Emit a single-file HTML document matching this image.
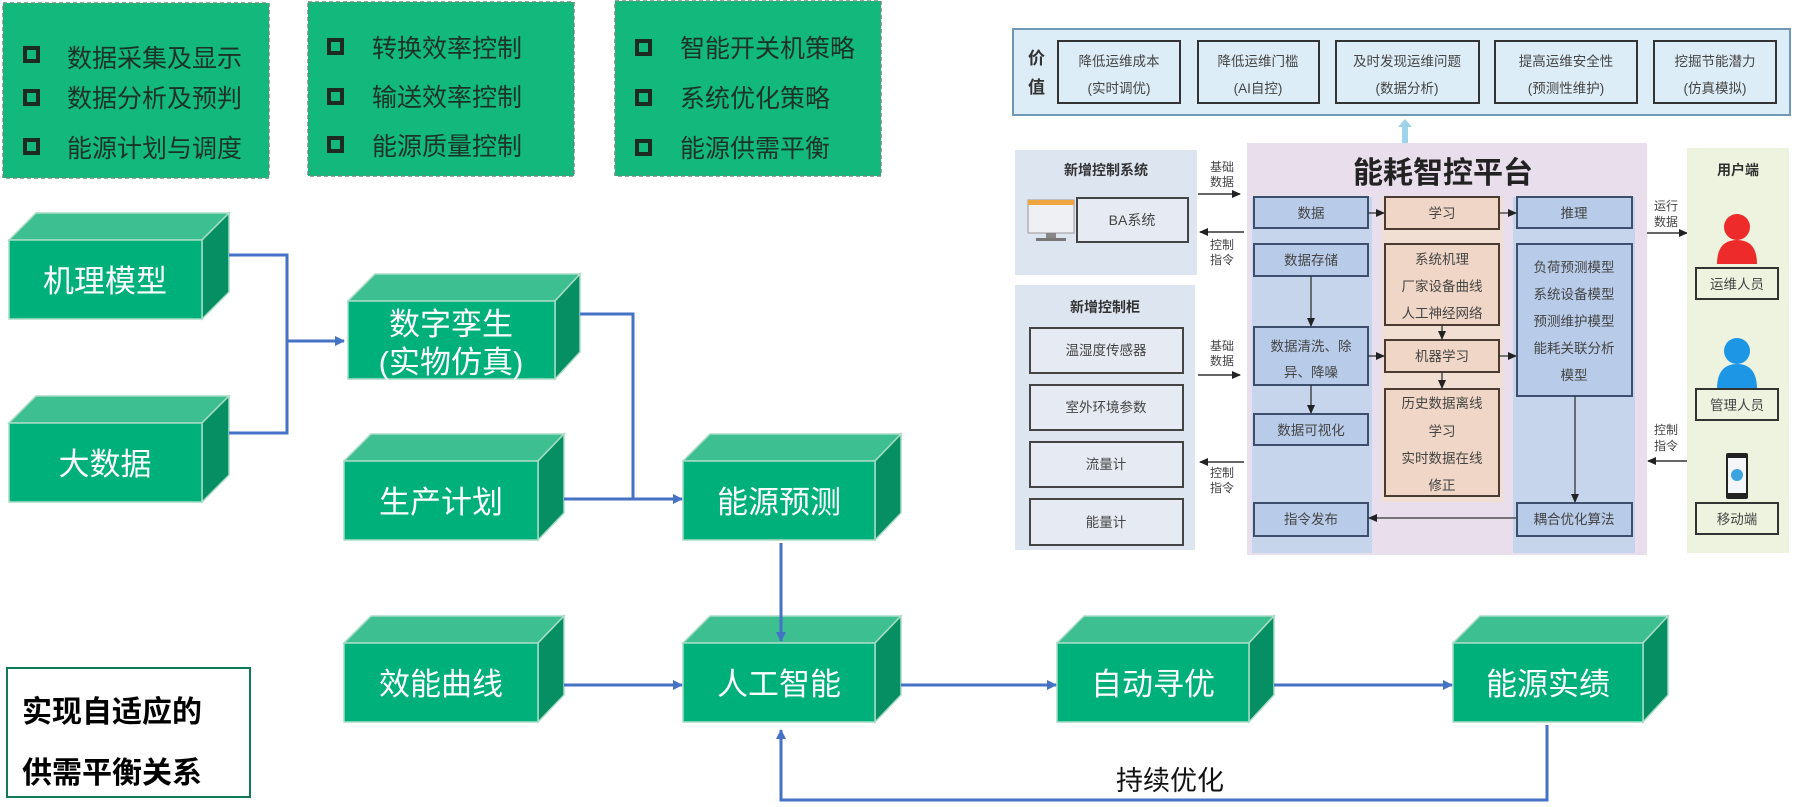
<!DOCTYPE html>
<html><head><meta charset="utf-8">
<style>
html,body{margin:0;padding:0;background:#fff;}
svg{display:block;}
text{font-family:"Liberation Sans","Noto Sans CJK SC",sans-serif;}
</style></head>
<body>
<svg width="1799" height="807" viewBox="0 0 1799 807" xmlns="http://www.w3.org/2000/svg">
<defs>
<marker id="ab" markerWidth="10" markerHeight="10" refX="9" refY="5" orient="auto" markerUnits="userSpaceOnUse">
<path d="M0,0 L10,5 L0,10 z" fill="#4472c4"/></marker>
<marker id="ak" markerWidth="9" markerHeight="8" refX="8" refY="4" orient="auto" markerUnits="userSpaceOnUse">
<path d="M0,0 L9,4 L0,8 z" fill="#222"/></marker>
</defs>

<!-- top green boxes -->
<g fill="#12b87c" stroke="#6a8f7a" stroke-width="1.5" stroke-dasharray="4,3">
<rect x="3" y="3" width="266" height="175"/>
<rect x="308" y="2" width="266" height="174"/>
<rect x="615" y="1" width="266" height="175"/>
</g>
<g fill="none" stroke="#1d2a22" stroke-width="4">
<rect x="25" y="48" width="13" height="13"/><rect x="25" y="91" width="13" height="13"/><rect x="25" y="140" width="13" height="13"/>
<rect x="329" y="40" width="13" height="13"/><rect x="329" y="90" width="13" height="13"/><rect x="329" y="138" width="13" height="13"/>
<rect x="637" y="41" width="13" height="13"/><rect x="637" y="91" width="13" height="13"/><rect x="637" y="141" width="13" height="13"/>
</g>
<g font-size="25" fill="#1b3327">
<text x="67" y="67">数据采集及显示</text>
<text x="67" y="107">数据分析及预判</text>
<text x="67" y="157">能源计划与调度</text>
<text x="372" y="57">转换效率控制</text>
<text x="372" y="106">输送效率控制</text>
<text x="372" y="155">能源质量控制</text>
<text x="680" y="57">智能开关机策略</text>
<text x="680" y="107">系统优化策略</text>
<text x="680" y="157">能源供需平衡</text>
</g>

<!-- 3D boxes -->
<g stroke="#a9dcc6" stroke-width="1.5">
<!-- helper: top, side, front -->
<g>
<polygon points="9,240 36,213 229,213 202,240" fill="#3dbf91"/>
<polygon points="202,240 229,213 229,292 202,319" fill="#068f62"/>
<rect x="9" y="240" width="193" height="79" fill="#00b07a"/>
</g>
<g>
<polygon points="9,423 36,396 229,396 202,423" fill="#3dbf91"/>
<polygon points="202,423 229,396 229,475 202,502" fill="#068f62"/>
<rect x="9" y="423" width="193" height="79" fill="#00b07a"/>
</g>
<g>
<polygon points="348,301 375,274 580,274 555,301" fill="#3dbf91"/>
<polygon points="555,301 580,274 580,352 555,379" fill="#068f62"/>
<rect x="348" y="301" width="207" height="78" fill="#00b07a"/>
</g>
<g>
<polygon points="344,461 371,434 564,434 538,461" fill="#3dbf91"/>
<polygon points="538,461 564,434 564,513 538,540" fill="#068f62"/>
<rect x="344" y="461" width="194" height="79" fill="#00b07a"/>
</g>
<g>
<polygon points="683,461 710,434 901,434 875,461" fill="#3dbf91"/>
<polygon points="875,461 901,434 901,513 875,540" fill="#068f62"/>
<rect x="683" y="461" width="192" height="79" fill="#00b07a"/>
</g>
<g>
<polygon points="344,643 371,616 564,616 538,643" fill="#3dbf91"/>
<polygon points="538,643 564,616 564,695 538,722" fill="#068f62"/>
<rect x="344" y="643" width="194" height="79" fill="#00b07a"/>
</g>
<g>
<polygon points="683,643 710,616 901,616 875,643" fill="#3dbf91"/>
<polygon points="875,643 901,616 901,695 875,722" fill="#068f62"/>
<rect x="683" y="643" width="192" height="79" fill="#00b07a"/>
</g>
<g>
<polygon points="1057,643 1084,616 1274,616 1249,643" fill="#3dbf91"/>
<polygon points="1249,643 1274,616 1274,695 1249,722" fill="#068f62"/>
<rect x="1057" y="643" width="192" height="79" fill="#00b07a"/>
</g>
<g>
<polygon points="1453,643 1480,616 1668,616 1643,643" fill="#3dbf91"/>
<polygon points="1643,643 1668,616 1668,695 1643,722" fill="#068f62"/>
<rect x="1453" y="643" width="190" height="79" fill="#00b07a"/>
</g>
</g>
<g font-size="31" fill="#fff" text-anchor="middle">
<text x="105" y="292">机理模型</text>
<text x="105" y="475">大数据</text>
<text x="451" y="335">数字孪生</text>
<text x="451" y="373">(实物仿真)</text>
<text x="441" y="513">生产计划</text>
<text x="779" y="513">能源预测</text>
<text x="441" y="695">效能曲线</text>
<text x="779" y="695">人工智能</text>
<text x="1153" y="695">自动寻优</text>
<text x="1548" y="695">能源实绩</text>
</g>

<!-- connectors -->
<g fill="none" stroke="#4472c4" stroke-width="3">
<polyline points="229,255 287,255 287,433 229,433"/>
<line x1="287" y1="341" x2="344" y2="341" marker-end="url(#ab)"/>
<polyline points="580,314 633,314 633,499"/>
<line x1="564" y1="499" x2="682" y2="499" marker-end="url(#ab)"/>
<line x1="781" y1="543" x2="781" y2="641" marker-end="url(#ab)"/>
<line x1="564" y1="685" x2="682" y2="685" marker-end="url(#ab)"/>
<line x1="901" y1="685" x2="1056" y2="685" marker-end="url(#ab)"/>
<line x1="1274" y1="685" x2="1452" y2="685" marker-end="url(#ab)"/>
<polyline points="1547,725 1547,800 781,800 781,730" marker-end="url(#ab)"/>
</g>
<text x="1170" y="790" font-size="27" fill="#111" text-anchor="middle">持续优化</text>

<rect x="7" y="668" width="243" height="129" fill="#fff" stroke="#107a55" stroke-width="2"/>
<g font-size="30" font-weight="bold" fill="#000">
<text x="22" y="722">实现自适应的</text>
<text x="22" y="783">供需平衡关系</text>
</g>

<!-- right diagram: value strip -->
<rect x="1013" y="29" width="777" height="86" fill="#dcedf7" stroke="#6e98b4" stroke-width="2"/>
<g font-size="17" font-weight="bold" fill="#333"><text x="1028" y="64">价</text><text x="1028" y="93">值</text></g>
<g fill="#dcedf7" stroke="#333" stroke-width="2">
<rect x="1058" y="41" width="122" height="62"/>
<rect x="1198" y="41" width="121" height="62"/>
<rect x="1336" y="41" width="143" height="62"/>
<rect x="1495" y="41" width="142" height="62"/>
<rect x="1654" y="41" width="122" height="62"/>
</g>
<g font-size="13.5" fill="#444" text-anchor="middle">
<text x="1119" y="66">降低运维成本</text><text x="1119" y="93">(实时调优)</text>
<text x="1258" y="66">降低运维门槛</text><text x="1258" y="93">(AI自控)</text>
<text x="1407" y="66">及时发现运维问题</text><text x="1407" y="93">(数据分析)</text>
<text x="1566" y="66">提高运维安全性</text><text x="1566" y="93">(预测性维护)</text>
<text x="1715" y="66">挖掘节能潜力</text><text x="1715" y="93">(仿真模拟)</text>
</g>
<polygon points="1398,127 1405,119 1412,127 1408,127 1408,143 1402,143 1402,127" fill="#9fd3ea"/>

<!-- left panels -->
<rect x="1015" y="150" width="182" height="125" fill="#dde5f1"/>
<text x="1106" y="175" font-size="14" font-weight="bold" fill="#333" text-anchor="middle">新增控制系统</text>
<rect x="1028" y="200" width="46" height="33" fill="#eef0f4" stroke="#999"/>
<rect x="1028" y="200" width="46" height="5" fill="#f0a640"/>
<rect x="1046" y="233" width="10" height="5" fill="#888"/><rect x="1036" y="238" width="30" height="3" fill="#777"/>
<rect x="1077" y="198" width="111" height="44" fill="#e6ebf3" stroke="#444" stroke-width="2"/>
<text x="1132" y="225" font-size="14" fill="#444" text-anchor="middle">BA系统</text>

<rect x="1015" y="285" width="180" height="265" fill="#dde5f1"/>
<text x="1105" y="312" font-size="14" font-weight="bold" fill="#333" text-anchor="middle">新增控制柜</text>
<g fill="#e6ebf3" stroke="#444" stroke-width="2">
<rect x="1030" y="328" width="153" height="45"/><rect x="1030" y="385" width="153" height="45"/>
<rect x="1030" y="442" width="153" height="45"/><rect x="1030" y="499" width="153" height="46"/>
</g>
<g font-size="13.5" fill="#444" text-anchor="middle">
<text x="1106" y="355">温湿度传感器</text><text x="1106" y="412">室外环境参数</text>
<text x="1106" y="469">流量计</text><text x="1106" y="527">能量计</text>
</g>

<!-- side arrows -->
<g stroke="#333" stroke-width="1.5">
<line x1="1198" y1="194" x2="1240" y2="194" marker-end="url(#ak)"/>
<line x1="1244" y1="232" x2="1200" y2="232" marker-end="url(#ak)"/>
<line x1="1198" y1="375" x2="1240" y2="375" marker-end="url(#ak)"/>
<line x1="1244" y1="462" x2="1200" y2="462" marker-end="url(#ak)"/>
<line x1="1647" y1="233" x2="1687" y2="233" marker-end="url(#ak)"/>
<line x1="1687" y1="461" x2="1648" y2="461" marker-end="url(#ak)"/>
</g>
<g font-size="12" fill="#444" text-anchor="middle">
<text x="1222" y="171">基础</text><text x="1222" y="186">数据</text>
<text x="1222" y="249">控制</text><text x="1222" y="264">指令</text>
<text x="1222" y="350">基础</text><text x="1222" y="365">数据</text>
<text x="1222" y="477">控制</text><text x="1222" y="492">指令</text>
<text x="1666" y="210">运行</text><text x="1666" y="226">数据</text>
<text x="1666" y="434">控制</text><text x="1666" y="450">指令</text>
</g>

<!-- platform -->
<rect x="1247" y="143" width="400" height="412" fill="#e8deec"/>
<text x="1443" y="183" font-size="30" font-weight="bold" fill="#222" text-anchor="middle">能耗智控平台</text>
<rect x="1252" y="197" width="120" height="356" fill="#c7d5ec"/>
<rect x="1382" y="197" width="121" height="305" fill="#f0dfd2"/>
<rect x="1513" y="197" width="122" height="356" fill="#c7d5ec"/>
<g fill="#b8cbe9" stroke="#3d4f6d" stroke-width="2">
<rect x="1254" y="197" width="114" height="31"/>
<rect x="1254" y="244" width="114" height="32"/>
<rect x="1254" y="327" width="114" height="58"/>
<rect x="1254" y="414" width="114" height="31"/>
<rect x="1254" y="503" width="114" height="33"/>
<rect x="1517" y="197" width="115" height="31"/>
<rect x="1517" y="244" width="115" height="152"/>
<rect x="1517" y="503" width="115" height="33"/>
</g>
<g fill="#f0d6c6" stroke="#4a3a32" stroke-width="2">
<rect x="1385" y="197" width="114" height="32"/>
<rect x="1385" y="244" width="114" height="81"/>
<rect x="1385" y="340" width="114" height="32"/>
<rect x="1385" y="389" width="114" height="107"/>
</g>
<g font-size="13.5" fill="#444" text-anchor="middle">
<text x="1311" y="218">数据</text>
<text x="1311" y="265">数据存储</text>
<text x="1311" y="351">数据清洗、除</text><text x="1311" y="377">异、降噪</text>
<text x="1311" y="435">数据可视化</text>
<text x="1311" y="524">指令发布</text>
<text x="1442" y="218">学习</text>
<text x="1442" y="264">系统机理</text><text x="1442" y="291">厂家设备曲线</text><text x="1442" y="318">人工神经网络</text>
<text x="1442" y="361">机器学习</text>
<text x="1442" y="408">历史数据离线</text><text x="1442" y="436">学习</text><text x="1442" y="463">实时数据在线</text><text x="1442" y="490">修正</text>
<text x="1574" y="218">推理</text>
<text x="1574" y="272">负荷预测模型</text><text x="1574" y="299">系统设备模型</text><text x="1574" y="326">预测维护模型</text><text x="1574" y="353">能耗关联分析</text><text x="1574" y="380">模型</text>
<text x="1574" y="524">耦合优化算法</text>
</g>
<g stroke="#333" stroke-width="1.3">
<line x1="1368" y1="213" x2="1384" y2="213" marker-end="url(#ak)"/>
<line x1="1499" y1="213" x2="1516" y2="213" marker-end="url(#ak)"/>
<line x1="1311" y1="276" x2="1311" y2="326" marker-end="url(#ak)"/>
<line x1="1311" y1="385" x2="1311" y2="413" marker-end="url(#ak)"/>
<line x1="1368" y1="356" x2="1384" y2="356" marker-end="url(#ak)"/>
<line x1="1499" y1="356" x2="1516" y2="356" marker-end="url(#ak)"/>
<line x1="1442" y1="325" x2="1442" y2="339" marker-end="url(#ak)"/>
<line x1="1442" y1="372" x2="1442" y2="388" marker-end="url(#ak)"/>
<line x1="1575" y1="396" x2="1575" y2="502" marker-end="url(#ak)"/>
<line x1="1516" y1="518" x2="1369" y2="518" marker-end="url(#ak)"/>
</g>

<!-- user panel -->
<rect x="1687" y="148" width="102" height="405" fill="#eef3df"/>
<text x="1738" y="175" font-size="14" font-weight="bold" fill="#333" text-anchor="middle">用户端</text>
<circle cx="1737" cy="227" r="13" fill="#ee2b2b"/>
<path d="M1717,264 Q1717,240 1737,240 Q1757,240 1757,264 z" fill="#ee2b2b"/>
<circle cx="1737" cy="351" r="13" fill="#1e96e6"/>
<path d="M1717,389 Q1717,364 1737,364 Q1757,364 1757,389 z" fill="#1e96e6"/>
<rect x="1726" y="453" width="22" height="46" rx="2" fill="#222"/>
<rect x="1728" y="458" width="18" height="35" fill="#f4f6f8"/>
<circle cx="1737" cy="475" r="6" fill="#3aa3e0"/>
<g fill="#eef3df" stroke="#333" stroke-width="2">
<rect x="1696" y="268" width="82" height="31"/>
<rect x="1696" y="389" width="82" height="31"/>
<rect x="1696" y="503" width="82" height="31"/>
</g>
<g font-size="13.5" fill="#444" text-anchor="middle">
<text x="1737" y="289">运维人员</text><text x="1737" y="410">管理人员</text><text x="1737" y="524">移动端</text>
</g>
</svg>
</body></html>
